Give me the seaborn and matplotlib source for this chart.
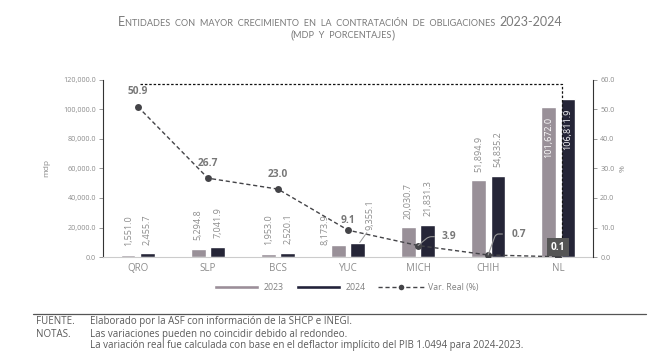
import matplotlib
matplotlib.use("Agg")
import matplotlib.pyplot as plt
from matplotlib.lines import Line2D
from matplotlib.patches import Patch
import seaborn as sns
import pandas as pd

sns.set_style("white")
plt.rcParams['font.family'] = ['Open Sans', 'DejaVu Sans']

# data
estados = ["QRO", "SLP", "BCS", "YUC", "MICH", "CHIH", "NL"]
monto_2023 = [1551.0, 5294.8, 1953.0, 8173.9, 20030.7, 51894.9, 101672.0]
monto_2024 = [2455.7, 7041.9, 2520.1, 9355.1, 21831.3, 54835.2, 106811.9]
var_real = [50.9, 26.7, 23.0, 9.1, 3.9, 0.7, 0.1]
years = ["2023", "2024"]

c23 = "#9b8e99"
c24 = "#22223a"
cline = "#444448"
ctxt = "#8c8c8c"
clab = "#777777"

df = pd.DataFrame({
    "estado": estados * 2,
    "anio": [years[0]] * len(estados) + [years[1]] * len(estados),
    "monto": monto_2023 + monto_2024,
})

fig = plt.figure(figsize=(6.68, 3.58), dpi=100)
ax = fig.add_axes([0.154, 0.282, 0.734, 0.495])

sns.barplot(data=df, x="estado", y="monto", hue="anio", order=estados,
            hue_order=years, palette=[c23, c24], width=0.55, gap=0.25,
            ax=ax, legend=False)

ax.set_ylim(0, 120000)
ax.set_xlim(-0.5, 6.5)
ax.set_yticks(range(0, 120001, 20000))
ax.set_yticklabels([f"{v:,.1f}" for v in range(0, 120001, 20000)])
ax.set_xticks([i + 0.5 for i in range(-1, 7)], minor=True)
ax.set_xlabel("")
ax.set_ylabel("mdp", fontsize=6, color=ctxt, labelpad=9)
ax.tick_params(axis="y", labelsize=5.2, colors=ctxt, length=3, width=0.6, pad=2)
ax.tick_params(axis="x", which="major", labelsize=7, colors=ctxt, length=0, pad=4)
ax.tick_params(axis="x", which="minor", length=3, width=0.6, color="#cccccc")
for side in ["top", "right"]:
    ax.spines[side].set_visible(False)
ax.spines["left"].set_color("#333333")
ax.spines["left"].set_linewidth(0.8)
ax.spines["bottom"].set_color("#cccccc")
ax.spines["bottom"].set_linewidth(0.8)

# bar labels
for k, (cont, vals) in enumerate(zip(ax.containers, [monto_2023, monto_2024])):
    for j, (bar, v) in enumerate(zip(cont, vals)):
        xc = bar.get_x() + bar.get_width() / 2
        txt = f"{v:,.1f}"
        if v > 90000:
            ax.text(xc, v - 6500, txt, rotation=90, ha="center", va="top",
                    fontsize=6.5, color="white")
        elif estados[j] == "YUC" and k == 0:
            ax.text(xc - 0.19, 8000, txt, rotation=90, ha="center", va="bottom",
                    fontsize=6.5, color=ctxt)
        elif estados[j] == "YUC" and k == 1:
            ax.text(xc + 0.17, 18300, txt, rotation=90, ha="center", va="bottom",
                    fontsize=6.5, color=ctxt)
            ax.plot([xc + 0.03, xc + 0.13], [v + 500, 16500], color="#999999", lw=0.7)
        else:
            ax.text(xc, v + 6000, txt, rotation=90, ha="center", va="bottom",
                    fontsize=6.5, color=ctxt)

# variation line on secondary axis
ax2 = ax.twinx()
sns.lineplot(x=list(range(len(estados))), y=var_real, ax=ax2, color=cline,
             linestyle=(0, (3, 2)), linewidth=1.0, marker="o", markersize=5,
             markeredgewidth=0)
ax2.set_ylim(0, 60)
ax2.set_xlim(-0.5, 6.5)
ax2.set_yticks(range(0, 61, 10))
ax2.set_yticklabels([f"{v:.1f}" for v in range(0, 61, 10)])
ax2.set_ylabel("%", fontsize=6, color=ctxt, labelpad=4, rotation=90)
ax2.tick_params(axis="y", labelsize=5.2, colors=ctxt, length=3, width=0.6, pad=2)
for side in ["top", "left", "bottom"]:
    ax2.spines[side].set_visible(False)
ax2.spines["right"].set_color("#333333")
ax2.spines["right"].set_linewidth(0.8)

# dashed frame
ax2.plot([0.03, 6.05, 6.05], [58.5, 58.5, 0.5], color="#111111",
         linestyle=(0, (2, 1.5)), linewidth=0.9)

# line labels
for i, v in enumerate(var_real[:4]):
    off = 1.3 if i == 3 else 3.2
    ax2.text(i, v + off, f"{v:.1f}", ha="center", va="bottom", fontsize=7.3,
             fontweight="bold", color=clab)
ax2.annotate(f"{var_real[4]:.1f}", xy=(4, var_real[4]), xytext=(4.34, 6.9),
             fontsize=7.3, fontweight="bold", color=clab, va="center",
             arrowprops=dict(arrowstyle="-", color="#999999", lw=0.8,
                             connectionstyle="angle,angleA=0,angleB=40,rad=3",
                             shrinkA=3, shrinkB=0))
ax2.annotate(f"{var_real[5]:.1f}", xy=(5, var_real[5]), xytext=(5.33, 7.8),
             fontsize=7.3, fontweight="bold", color=clab, va="center",
             arrowprops=dict(arrowstyle="-", color="#999999", lw=0.8,
                             connectionstyle="angle,angleA=180,angleB=70,rad=3",
                             shrinkA=4, shrinkB=0))
ax2.text(6, 3.4, f"{var_real[6]:.1f}", ha="center", va="center", fontsize=7.3,
         fontweight="bold", color="white",
         bbox=dict(boxstyle="square,pad=0.35", fc="#555555", ec="none"))


# title in small caps: chain text pieces of different sizes
def small_caps(y, parts, xc, color="#7a7a7a"):
    renderer = fig.canvas.get_renderer()
    texts = []
    widths = []
    for s, size in parts:
        t = fig.text(0, y, s, fontsize=size, color=color, family="Lato",
                     va="baseline")
        widths.append(t.get_window_extent(renderer).width)
        texts.append(t)
    total = sum(widths)
    x0 = xc * fig.bbox.width - total / 2
    for t, w in zip(texts, widths):
        t.set_x(x0 / fig.bbox.width)
        x0 += w


small_caps(0.928, [("E", 9.0),
                   ("NTIDADES  CON  MAYOR  CRECIMIENTO  EN  LA  CONTRATACIÓN  DE  OBLIGACIONES  ", 6.6),
                   ("2023-2024", 9.0)], 0.509)
small_caps(0.894, [("(", 8.5), ("MDP  Y  PORCENTAJES", 6.6), (")", 8.5)], 0.513)

# legend
handles = [
    Patch(facecolor=c23, label=years[0]),
    Patch(facecolor=c24, label=years[1]),
    Line2D([0], [0], color=cline, linestyle=(0, (3, 2)), marker="o",
           markersize=4, markeredgewidth=0, lw=1, label="Var. Real (%)"),
]
fig.legend(handles=handles, loc="center", bbox_to_anchor=(0.518, 0.197), ncol=3,
           frameon=False, fontsize=6.3, labelcolor="#808080", handlelength=5.2,
           handleheight=0.45, columnspacing=1.4, handletextpad=0.5)

# footer
fig.add_artist(Line2D([0.049, 0.967], [0.123, 0.123], color="#555555", lw=0.9,
                      transform=fig.transFigure))
fsize = 7.0
fcol = "#5a5a5a"
fig.text(0.054, 0.103, "FUENTE.", fontsize=fsize, color=fcol, va="center")
fig.text(0.054, 0.067, "NOTAS.", fontsize=fsize, color=fcol, va="center")
fig.text(0.135, 0.103, "Elaborado por la ASF con información de la SHCP e INEGI.",
         fontsize=fsize, color=fcol, va="center")
fig.text(0.135, 0.067, "Las variaciones pueden no coincidir debido al redondeo.",
         fontsize=fsize, color=fcol, va="center")
fig.text(0.135, 0.034, "La variación real fue calculada con base en el deflactor implícito del PIB 1.0494 para 2024-2023.",
         fontsize=fsize, color=fcol, va="center")

fig.savefig("out.png", dpi=100)
